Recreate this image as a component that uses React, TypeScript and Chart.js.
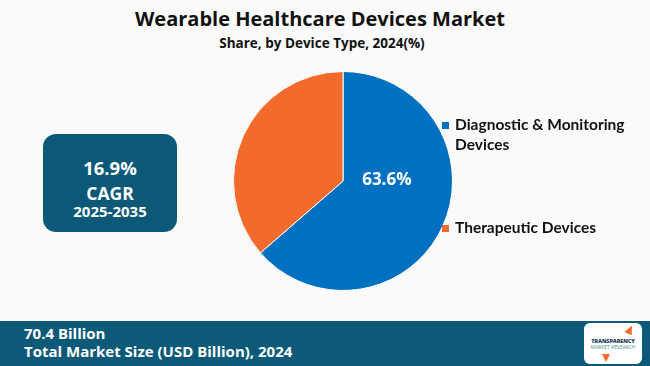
import React, { useEffect, useRef } from "react";
import { Chart, registerables } from "chart.js";

Chart.register(...registerables);

const categories = ["Diagnostic & Monitoring Devices", "Therapeutic Devices"];
const shares = [63.6, 36.4];
const colors = ["#0070C0", "#F26B2D"];
const legendLines = [["Diagnostic & Monitoring", "Devices"], ["Therapeutic Devices"]];

const valueLabelPlugin = {
  id: "valueLabel",
  afterDatasetsDraw(chart: any) {
    const meta = chart.getDatasetMeta(0);
    const arc = meta.data[0];
    if (!arc) return;
    const { ctx } = chart;
    const p = arc.tooltipPosition();
    ctx.save();
    ctx.fillStyle = "#FFFFFF";
    ctx.font = "bold 17px 'Open Sans', sans-serif";
    ctx.textAlign = "center";
    ctx.textBaseline = "middle";
    ctx.fillText(shares[0].toFixed(1) + "%", p.x - 6, p.y - 24);
    ctx.restore();
  },
};

export default function App() {
  const ref = useRef<HTMLCanvasElement>(null);
  useEffect(() => {
    document.body.style.margin = "0";
    const chart = new Chart(ref.current!, {
      type: "pie",
      data: {
        labels: categories,
        datasets: [
          {
            data: shares,
            backgroundColor: colors,
            borderColor: "#FFFFFF",
            borderWidth: 1,
          },
        ],
      },
      options: {
        animation: false,
        responsive: false,
        maintainAspectRatio: false,
        layout: { padding: 0 },
        plugins: { legend: { display: false }, tooltip: { enabled: false } },
      },
      plugins: [valueLabelPlugin],
    });
    return () => chart.destroy();
  }, []);

  const font = "'Open Sans', 'Noto Sans', sans-serif";
  return (
    <div
      style={{
        position: "fixed",
        left: 0,
        top: 0,
        width: 650,
        height: 366,
        background: "#FAFAFA",
        fontFamily: font,
        overflow: "hidden",
      }}
    >
      <div style={{ position: "absolute", left: 0, width: 640, top: 5, textAlign: "center", fontWeight: 700, fontSize: 20, color: "#111" }}>
        Wearable Healthcare Devices Market
      </div>
      <div style={{ position: "absolute", left: 0, width: 644, top: 34, textAlign: "center", fontWeight: 700, fontSize: 13.5, color: "#111" }}>
        Share, by Device Type, 2024(%)
      </div>

      <canvas ref={ref} width={220} height={220} style={{ position: "absolute", left: 233, top: 71, width: 220, height: 220 }} />

      {legendLines.map((lines, i) => (
        <div key={i} style={{ position: "absolute", left: 442, top: i === 0 ? 114 : 217 }}>
          <div style={{ position: "absolute", left: 0, top: 8, width: 7, height: 7, background: colors[i] }} />
          <div style={{ position: "absolute", left: 13, top: 0, whiteSpace: "nowrap", fontFamily: "Lato, 'Open Sans', sans-serif", fontWeight: 700, fontSize: 15.5, lineHeight: "20px", color: "#111" }}>
            {lines.map((l, j) => (
              <div key={j}>{l}</div>
            ))}
          </div>
        </div>
      ))}

      <div
        style={{
          position: "absolute",
          left: 43,
          top: 134,
          width: 134,
          height: 98,
          background: "#0B5877",
          borderRadius: 13,
          color: "#fff",
          textAlign: "center",
          fontWeight: 700,
        }}
      >
        <div style={{ position: "absolute", top: 21, width: "100%", fontSize: 18.5 }}>16.9%</div>
        <div style={{ position: "absolute", top: 47, width: "100%", fontSize: 17.5 }}>CAGR</div>
        <div style={{ position: "absolute", top: 67, width: "100%", fontSize: 15 }}>2025-2035</div>
      </div>

      <div style={{ position: "absolute", left: 0, top: 321, width: 650, height: 45, background: "#0C5978", color: "#fff", fontWeight: 700 }}>
        <div style={{ position: "absolute", left: 24, top: 3, fontSize: 15, lineHeight: "19px" }}>70.4 Billion</div>
        <div style={{ position: "absolute", left: 24, top: 21, fontSize: 15, lineHeight: "19px" }}>Total Market Size (USD Billion), 2024</div>
        <div style={{ position: "absolute", left: 584, top: 2, width: 58, height: 41, background: "#fff", borderRadius: 6, overflow: "hidden" }}>
          <div style={{ position: "absolute", left: 42, top: 2, width: 0, height: 0, borderLeft: "4px solid transparent", borderRight: "4px solid transparent", borderBottom: "9px solid #F26B2D", transform: "rotate(25deg)" }} />
          <div style={{ position: "absolute", left: 4, top: 14, width: 50, fontSize: 5.5, fontWeight: 800, color: "#1a3d5c", textAlign: "center", letterSpacing: -0.1 }}>TRANSPARENCY</div>
          <div style={{ position: "absolute", left: 4, top: 21, width: 50, fontSize: 5, fontWeight: 400, color: "#3a9a8a", textAlign: "center" }}>MARKET RESEARCH</div>
          <div style={{ position: "absolute", left: 18, top: 31, width: 0, height: 0, borderLeft: "4px solid transparent", borderRight: "4px solid transparent", borderTop: "8px solid #F26B2D" }} />
        </div>
      </div>
    </div>
  );
}
